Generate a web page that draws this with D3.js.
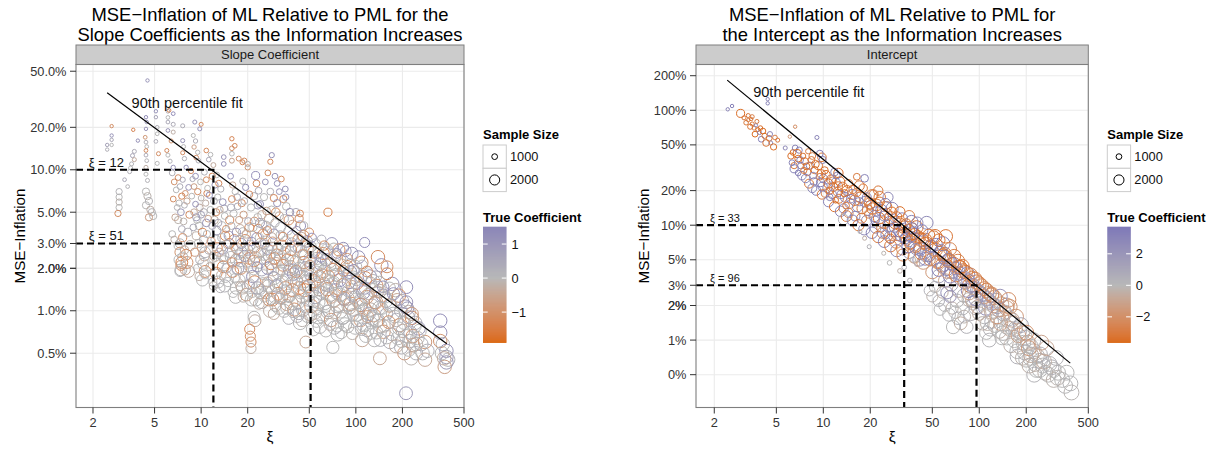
<!DOCTYPE html>
<html><head><meta charset="utf-8">
<script src="https://cdn.jsdelivr.net/npm/d3@7"></script>
<style>body{margin:0;background:#fff}svg{display:block}</style>
</head><body>
<svg id="c" width="1209" height="450"></svg>
<script>
// ---------------- DATA ----------------
const xTicks = [2, 5, 10, 20, 50, 100, 200, 500];
const xTickLabels = ["2", "5", "10", "20", "50", "100", "200", "500"];
const slopeYTicks = [0.5, 1, 2, 2, 3, 5, 10, 20, 50];
const slopeYLabels = ["0.5%", "1.0%", "2.0%", "2.0%", "3.0%", "5.0%", "10.0%", "20.0%", "50.0%"];
const interceptYTicks = [0.5, 1, 2, 2, 3, 5, 10, 20, 50, 100, 200];
const interceptYLabels = ["0%", "1%", "2%", "2%", "3%", "5%", "10%", "20%", "50%", "100%", "200%"];

const sizeBreaks = [1000, 2000];
const sizeLabels = ["1000", "2000"];
const slopeCoefBreaks = [-1, 0, 1];
const slopeCoefLabels = ["\u22121", "0", "1"];
const slopeCoefLimits = [-1.9, 1.51];
const interceptCoefBreaks = [-2, 0, 2];
const interceptCoefLabels = ["\u22122", "0", "2"];
const interceptCoefLimits = [-3.64, 3.72];

// 90th percentile fit lines (xi, MSE-inflation %)
const slopeFitXi = [2.47, 387];
const slopeFitMSE = [35.2, 0.583];
const interceptFitXi = [2.42, 383];
const interceptFitMSE = [183, 0.63];

// reference thresholds
const slopeRefXi = [12, 51];
const slopeRefMSE = [10, 3];
const interceptRefXi = [33, 96];
const interceptRefMSE = [10, 3];

// points: [xi, MSE-inflation %, sample size, true coefficient]
const slopeCloud = [
[7.1,8.8,1000,-1.0],[7.3,7.6,1000,0.3],[7.5,6.5,1100,-1.2],[7.2,5.8,1100,0.0],[7.4,5.0,1200,0.9],[7.1,4.4,1300,-0.1],[7.6,3.3,1500,-1.1],[7.3,3.0,1800,0.1],[7.5,2.2,2500,-1.3],[7.4,1.95,2500,0.0],[8.1,2.2,2500,-0.9],[8.3,1.9,2500,-0.3],[8.2,3.6,1500,0.1],[8.4,4.8,1300,-1.0],[8.1,6.0,1100,-0.4],[8.3,7.5,1000,1.0],[8.5,2.9,2000,-0.1],[8.0,2.5,2200,-1.2],
[9.2,9.0,1000,1.1],[9.5,7.0,1100,-1.0],[9.8,5.4,1200,-0.3],[9.3,4.6,1300,0.9],[9.7,4.0,1400,0.0],[10.2,3.6,1500,-1.2],[10.4,3.2,1600,0.3],[10.1,2.8,1800,-1.0],[10.5,2.45,2000,-0.5],[10.3,2.15,2200,0.0],[10.6,1.9,2500,-1.1],[10.2,1.65,2500,0.0],[10.8,4.2,1400,1.0],[10.4,5.0,1300,0.2],[10.9,6.8,1100,-1.2],[10.6,2.6,2200,0.1],
[11.8,9.0,1100,-1.1],[12.3,7.8,1100,1.0],[12.1,6.0,1200,0.3],[12.5,5.0,1300,-1.0],[12.2,4.4,1400,-0.2],[12.6,3.7,1600,0.9],[12.4,3.2,1800,0.2],[12.7,2.8,2000,-1.2],[12.3,2.45,2200,-0.4],[12.8,2.15,2400,0.0],[12.5,1.85,2500,-1.0],[12.9,1.6,2500,0.0],[13.7,2.75,2200,1.0],[13.9,2.45,2300,0.2],[14.3,3.4,1800,-1.1],[13.6,4.0,1600,0.0],[14.1,5.3,1300,0.3],[13.9,2.05,2500,-1.2],[14.4,1.75,2500,0.0],[14.2,1.5,2600,0.2],
[15.2,3.0,2000,-1.0],[15.4,2.6,2200,0.2],[15.1,3.4,1800,1.0],[15.3,4.4,1500,-1.2],[15.6,5.4,1300,0.4],[16.0,1.9,2500,-1.1],[16.8,2.3,2400,-0.3],[17.3,2.0,2500,0.9],[17.6,1.65,2600,0.1],[17.1,2.75,2200,-1.3],[17.9,3.8,1700,-0.3],[18.2,3.0,2000,1.1],[18.4,2.6,2200,0.2],[18.1,2.0,2500,-1.0],[18.5,1.45,2600,-0.2],[16.7,1.25,2700,0.0],[18.3,5.8,1300,-1.0],[17.1,6.4,1200,0.5],
[19.3,3.2,2000,-1.2],[19.9,2.7,2200,0.3],[20.4,2.35,2400,-1.0],[20.9,2.05,2500,-0.2],[21.5,1.75,2600,1.0],[20.1,1.5,2600,0.1],[22.0,2.8,2200,-1.1],[22.5,2.4,2400,-0.3],[22.9,3.3,2000,1.1],[23.4,3.8,1800,-1.0],[23.9,2.2,2500,0.0],[24.6,1.95,2600,0.4],[22.2,1.6,2700,-1.2],[24.1,1.35,2700,-0.2],[22.6,1.2,2800,0.0],[24.8,1.15,2800,0.1],[22.1,4.3,1600,-1.0],[24.7,4.8,1500,-0.3],[23.3,5.6,1400,1.0],[22.0,6.5,1300,0.2],
[25.2,3.5,2000,-1.1],[26.0,3.1,2200,-0.2],[26.8,2.75,2300,1.0],[27.5,2.45,2400,0.3],[28.3,2.15,2500,-1.2],[29.0,1.95,2600,-0.3],[29.8,1.7,2700,0.0],[30.6,1.5,2700,1.0],[31.4,1.32,2800,-1.0],[27.2,1.5,2700,-0.1],[26.3,1.35,2800,0.0],[28.9,1.2,2800,-1.1],[31.8,1.05,2900,0.0],[27.9,1.0,2900,-0.2],[30.9,2.5,2400,-1.0],[32.2,2.3,2500,0.2],[29.6,3.5,2000,1.1],[27.4,4.5,1700,-0.4],[30.4,5.0,1600,-1.2],[32.6,3.9,1900,0.3],
[33.2,2.9,2300,-1.0],[34.6,2.55,2400,0.2],[36.2,2.3,2500,-1.2],[37.9,2.05,2600,-0.2],[39.6,1.82,2700,1.0],[41.3,1.6,2700,0.3],[43.1,1.45,2800,-1.1],[44.8,1.27,2800,-0.3],[33.5,1.6,2700,0.0],[35.0,1.45,2800,-1.0],[36.6,1.28,2800,0.0],[38.3,1.13,2900,-0.2],[40.0,1.02,2900,-1.0],[41.8,0.92,2900,0.2],[43.6,0.82,3000,0.0],[34.3,1.0,2900,0.0],[38.9,3.4,2200,1.1],[42.6,3.2,2300,-1.2],[44.3,2.65,2400,0.0],[40.8,2.85,2300,0.4],[36.9,4.4,1900,-1.0],[43.9,4.0,2000,1.0],
[45.8,3.4,2300,-1.1],[48.2,3.1,2400,1.0],[50.7,2.85,2500,0.0],[53.3,2.6,2500,-1.2],[56.1,2.35,2600,0.0],[59.0,2.15,2700,1.0],[46.2,2.2,2600,-1.0],[48.6,1.95,2700,-0.2],[51.1,1.8,2700,0.0],[53.8,1.62,2800,-1.0],[56.6,1.48,2800,0.0],[59.5,1.34,2900,-0.1],[46.6,1.4,2900,-1.1],[49.0,1.2,2900,0.2],[51.6,1.08,3000,-0.8],[54.3,0.97,3000,-0.2],[57.1,0.9,3000,0.0],[58.4,0.77,3000,0.1],[52.9,0.74,3000,0.0],
[61.5,2.55,2600,-1.0],[64.6,2.3,2700,1.0],[67.8,2.1,2700,0.0],[71.2,1.95,2800,-1.2],[74.8,1.8,2800,0.0],[78.5,1.65,2900,1.1],[82.4,1.52,2900,-1.0],[62.1,1.55,2900,-0.2],[65.2,1.42,2900,-1.0],[68.5,1.3,3000,0.1],[71.9,1.18,3000,-0.9],[75.5,1.08,3000,-0.2],[79.3,0.99,3000,0.0],[83.3,0.9,3000,0.2],[62.8,1.08,3000,0.0],[66.0,0.98,3000,-0.1],[69.2,0.86,3000,-0.7],[72.7,0.76,3000,0.2],[76.3,0.68,3000,0.0],[70.0,3.0,2500,1.1],[77.7,2.7,2600,-1.1],
[87.5,2.05,2800,-1.0],[91.9,1.88,2900,1.0],[96.5,1.72,2900,0.0],[101.3,1.58,3000,-1.2],[106.4,1.46,3000,0.0],[111.7,1.35,3000,1.0],[117.3,1.25,3000,-0.9],[88.4,1.22,3000,-0.3],[92.8,1.12,3000,-1.0],[97.4,1.02,3000,0.1],[102.3,0.94,3000,0.0],[107.4,0.86,3000,-0.8],[112.8,0.79,3000,0.0],[118.4,0.73,3000,0.3],[99.0,0.76,3000,0.0],[104.0,2.4,2800,1.1],[109.0,2.2,2800,-1.0],[94.2,2.55,2700,1.0],
[123.0,1.75,3000,1.0],[129.2,1.62,3000,0.2],[135.6,1.5,3000,-1.1],[142.4,1.38,3000,-0.3],[149.5,1.28,3000,1.0],[157.0,1.18,3000,0.2],[164.9,1.09,3000,-1.0],[124.2,1.02,3000,-0.2],[130.4,0.93,3000,-0.9],[136.9,0.85,3000,0.1],[143.8,0.78,3000,0.0],[151.0,0.71,3000,-0.8],[158.5,0.65,3000,0.0],[166.4,0.6,3000,0.2],[131.7,0.62,3000,0.0],[146.2,2.1,3000,1.1],[139.0,2.4,3000,-1.1],
[172.0,1.55,3000,1.1],[180.6,1.4,3000,-0.2],[189.7,1.28,3000,-1.0],[199.1,1.17,3000,0.3],[209.1,1.07,3000,1.0],[219.5,0.98,3000,-0.2],[230.5,0.89,3000,-1.0],[242.0,0.82,3000,0.2],[254.1,0.75,3000,0.8],[174.0,0.95,3000,0.0],[182.7,0.86,3000,0.2],[191.8,0.79,3000,-0.8],[201.4,0.72,3000,-0.3],[211.5,0.66,3000,0.0],[222.1,0.61,3000,0.1],[233.2,0.66,3000,-0.9],[244.8,0.58,3000,-0.2],[187.0,0.64,3000,0.0],[196.5,0.55,3000,0.2],[206.0,0.5,3000,-0.7],[228.0,0.46,3000,-0.1],
[280.0,0.6,3000,-0.8],[290.0,0.52,3000,0.2],[365.0,0.58,3000,0.0],[395.0,0.45,3000,0.1],[375.0,0.4,3000,-0.6]
];

const slopeCloudFill = [
[15.6,2.4,2400,0.0],[16.4,3.2,2000,-0.8],[17.8,2.25,2400,0.0],[19.1,2.45,2300,0.9],[20.6,2.9,2100,0.0],[21.9,2.25,2400,-1.0],[23.2,2.6,2300,0.0],[24.3,3.0,2200,-0.4],[25.7,2.5,2400,0.0],[26.9,2.0,2600,1.0],[28.6,2.8,2300,0.0],[29.8,2.35,2400,-1.1],[31.2,2.7,2300,0.0],[16.9,1.45,2700,0.0],[19.6,1.3,2700,-0.6],[21.2,1.2,2800,0.0],[23.1,1.45,2700,0.5],[25.1,1.55,2700,0.0],[27.6,1.2,2800,-0.9],[30.0,1.25,2800,0.0],[18.6,3.6,1800,0.0],[20.5,3.9,1700,-1.0],[26.3,4.0,1800,0.0],[28.5,3.3,2000,-0.3],[24.0,4.2,1700,0.7],
[31.5,1.85,2600,0.0],[33.8,2.1,2500,-0.9],[35.8,1.65,2700,0.0],[37.4,1.95,2600,0.8],[39.2,2.25,2500,0.0],[41.1,1.9,2600,-1.0],[43.0,2.0,2600,0.0],[45.1,1.75,2700,0.3],[47.3,1.62,2800,0.0],[49.6,1.5,2800,-1.2],[52.0,1.38,2900,0.0],[54.6,1.25,2900,0.6],[57.3,1.15,2900,0.0],[33.0,1.25,2800,-0.5],[36.0,1.05,2900,0.0],[39.0,1.4,2800,-1.0],[42.4,1.15,2900,0.0],[45.6,1.02,3000,0.2],[48.9,0.92,3000,0.0],[35.2,3.1,2200,0.0],[38.1,2.7,2300,-1.0],[47.0,2.45,2500,0.0],[50.2,2.25,2500,0.9],[55.2,2.05,2600,0.0],[58.2,1.75,2700,-1.0],
[62.0,1.9,2800,0.0],[66.3,1.75,2800,-1.0],[70.5,1.55,2900,0.0],[74.2,1.4,2900,0.7],[79.0,1.3,3000,0.0],[84.0,1.22,3000,-0.9],[89.6,1.1,3000,0.0],[95.2,1.3,3000,0.4],[101.0,1.2,3000,0.0],[107.5,1.1,3000,-1.0],[114.0,1.02,3000,0.0],[121.0,0.95,3000,0.5],[128.0,0.88,3000,0.0],[135.0,1.15,3000,-0.7],[142.0,1.05,3000,0.0],[65.0,2.7,2600,0.0],[73.0,2.4,2700,-0.8],[81.0,2.1,2800,0.0],[90.0,1.6,2900,1.0],[99.0,2.05,2900,0.0],[115.0,1.7,3000,-1.0],[130.0,1.4,3000,0.0],[85.0,0.8,3000,0.0],[110.0,0.62,3000,-0.4],[125.0,0.7,3000,0.0]
];

const slopePoints = [
[6.5,9.5,1000,0.2],[6.7,8.2,1000,-0.9],[6.9,7.2,1000,0.0],[6.6,6.2,1000,-1.0],[7.0,5.4,1000,0.1],[6.8,4.6,1200,-0.4],[6.5,3.5,1200,0.0],[6.7,3.2,1200,-0.2],[7.1,2.9,1500,0.0],[7.3,2.6,2000,-0.9],[7.2,2.3,2000,0.0],[7.4,2.1,2000,-1.0],[7.3,1.9,2000,0.1],[7.6,2.4,2000,0.0],[7.8,2.7,1500,-0.3],[7.9,1.95,2000,-0.5],[7.5,3.8,1200,0.3],[7.7,4.3,1200,-0.1],[7.8,5.6,1000,0.2],[7.9,6.8,1000,-0.8],[7.6,8.5,900,0.5],
[8.6,9.8,900,-1.0],[8.8,8.6,900,0.3],[9.0,7.6,1000,-0.6],[8.7,6.5,1000,0.0],[9.2,5.7,1000,1.0],[9.0,5.0,1200,-0.3],[9.4,4.4,1200,0.0],[8.9,3.9,1200,0.4],[9.3,3.4,1500,-0.2],[9.6,3.0,1500,0.0],[9.1,2.6,1500,-0.7],[9.8,2.3,1500,0.2],[9.5,2.0,1500,0.0],[9.7,1.75,1500,-0.2],[10.0,4.8,1200,0.6],[10.0,6.3,1000,-0.1],[9.9,8.2,1000,0.0],
[10.5,9.6,1000,0.2],[10.8,8.5,1000,-1.0],[11.0,7.4,1000,0.0],[11.3,6.6,1100,1.1],[10.7,5.8,1100,-0.2],[11.5,5.2,1200,0.0],[11.1,4.5,1200,-0.5],[11.8,4.0,1300,0.3],[10.9,3.5,1300,0.0],[11.6,3.1,1500,-0.8],[11.2,2.7,1500,0.1],[11.9,2.35,1500,0.0],[11.4,2.05,1500,-0.3],[10.6,1.8,1500,0.0],[11.9,1.6,1500,0.2],[12.0,1.5,1500,-0.1],
[12.6,9.2,1000,0.0],[13.0,8.0,1100,-1.1],[13.4,7.3,1100,0.2],[12.8,6.4,1100,0.0],[13.8,5.9,1200,1.0],[13.2,5.2,1200,-0.3],[14.2,4.7,1200,0.0],[12.9,4.2,1300,0.5],[14.5,3.8,1300,-0.9],[13.6,3.3,1500,0.0],[14.8,2.95,1500,0.2],[13.1,2.6,1500,-0.4],[14.0,2.3,1500,0.0],[14.6,2.0,1800,0.3],[13.5,1.8,1800,-0.2],[14.9,1.6,1800,0.0],[13.3,1.45,1800,0.1],
[15.5,9.0,1000,1.1],[16.0,7.8,1100,-0.4],[16.6,7.0,1100,0.0],[15.8,6.2,1200,-1.0],[17.2,5.5,1200,0.3],[16.2,4.9,1300,0.0],[17.6,4.4,1300,-0.5],[15.7,4.0,1300,0.1],[16.9,3.6,1500,1.0],[17.8,3.2,1500,0.0],[16.3,2.85,1500,-0.3],[17.4,2.5,1800,0.0],[15.9,2.2,1800,-1.0],[17.0,1.95,1800,0.2],[16.5,1.7,1800,0.0],[17.9,1.5,1800,-0.2],[16.1,1.35,2000,0.0],
[18.6,8.3,1100,0.0],[19.4,7.5,1100,1.1],[20.5,6.7,1200,-1.0],[19.0,6.0,1200,0.2],[21.0,5.4,1300,0.0],[18.8,4.8,1300,-0.6],[20.2,4.3,1400,0.4],[21.6,3.9,1500,0.0],[19.6,3.5,1500,-0.3],[21.2,3.1,1600,1.0],[18.9,2.8,1600,0.0],[20.8,2.5,1800,-0.4],[19.8,2.2,1800,0.1],[21.8,1.95,2000,0.0],[19.2,1.75,2000,-0.2],[20.6,1.55,2000,0.3],[21.4,1.35,2000,0.0],[18.7,1.25,2000,-0.1],
[22.0,0.9,2500,0.0],[22.3,0.85,2500,-0.2],[20.6,0.74,2000,-1.1],[20.8,0.66,2000,-0.9],[21.0,0.6,2000,-1.0],[21.0,0.54,2000,-0.2],
[22.8,8.0,1200,-1.0],[23.5,7.1,1200,0.3],[25.5,6.4,1300,0.0],[24.0,5.7,1300,1.0],[26.5,5.1,1400,-0.5],[23.2,4.6,1400,0.0],[25.0,4.1,1500,0.2],[26.8,3.7,1500,-1.0],[23.8,3.3,1600,0.0],[25.8,2.95,1700,0.5],[24.4,2.6,1800,-0.2],[26.2,2.3,1800,0.0],[23.0,2.05,2000,1.0],[25.3,1.8,2000,0.0],[26.9,1.6,2000,-0.4],[24.2,1.42,2000,0.1],[25.6,1.26,2200,0.0],[23.6,1.12,2200,-0.2],
[28.0,7.0,1200,0.2],[29.5,6.3,1300,-1.1],[31.0,5.8,1300,1.0],[28.5,5.2,1400,0.0],[32.0,4.7,1500,-0.3],[30.0,4.2,1500,0.0],[27.8,3.8,1600,0.4],[32.5,3.45,1600,0.0],[29.0,3.1,1700,-0.8],[31.5,2.8,1800,0.1],[28.2,2.5,1800,0.0],[30.5,2.2,2000,-0.3],[32.8,1.95,2000,0.0],[29.2,1.75,2000,0.6],[31.2,1.55,2200,0.0],[28.6,1.38,2200,-0.1],[32.2,1.22,2200,0.2],[30.2,1.08,2200,0.0],[29.5,0.95,2300,-0.3],
[34.0,6.2,1300,-1.0],[35.5,5.5,1400,0.0],[37.5,5.0,1400,1.1],[34.5,4.5,1500,0.2],[39.0,4.1,1500,-0.5],[36.5,3.7,1600,0.0],[33.8,3.35,1700,-1.0],[38.5,3.05,1800,0.3],[35.2,2.75,1800,0.0],[37.8,2.45,2000,-0.2],[34.2,2.2,2000,0.0],[39.5,1.98,2000,0.5],[36.0,1.78,2200,-0.3],[38.2,1.58,2200,0.0],[34.8,1.4,2200,0.1],[37.2,1.25,2300,0.0],[35.6,1.1,2300,-0.5],[39.2,0.98,2300,0.0],[36.8,0.88,2400,0.2],
[41.0,5.0,1400,0.3],[43.0,4.5,1500,-1.0],[46.0,4.0,1500,0.0],[41.5,3.7,1600,1.0],[44.5,3.35,1700,-0.3],[47.5,3.05,1800,0.0],[42.2,2.8,1800,0.4],[45.5,2.5,2000,-0.8],[40.5,2.25,2000,0.0],[47.0,2.05,2000,0.2],[43.5,1.85,2200,0.0],[41.8,1.65,2200,-0.3],[46.5,1.5,2200,0.1],[44.0,1.33,2300,0.0],[40.8,1.18,2300,-0.2],[47.8,1.06,2400,0.0],[42.8,0.95,2400,0.3],[45.0,0.85,2500,-0.1],
[50.0,3.6,1600,-1.0],[52.0,3.3,1700,1.1],[55.0,3.0,1800,0.0],[49.5,2.75,1800,-0.3],[57.0,2.55,2000,0.2],[53.0,2.3,2000,0.0],[50.5,2.1,2000,-0.6],[56.0,1.9,2200,0.0],[51.5,1.72,2200,0.4],[54.5,1.56,2200,0.0],[57.5,1.4,2300,-0.2],[49.8,1.28,2300,0.0],[53.5,1.15,2300,0.1],[56.5,1.03,2400,0.0],[51.0,0.93,2500,-0.3],[55.5,0.84,2500,0.0],[47.5,0.6,2500,-0.4],
[60.0,3.2,1700,0.3],[62.5,2.9,1800,-1.0],[66.0,2.65,1900,0.0],[59.5,2.4,2000,1.0],[68.5,2.2,2000,-0.2],[63.0,2.0,2100,0.0],[60.5,1.82,2200,-0.4],[67.0,1.66,2200,0.0],[64.5,1.5,2300,0.3],[61.0,1.36,2300,0.0],[69.0,1.24,2400,-0.6],[63.5,1.12,2400,0.0],[66.5,1.0,2500,0.2],[60.8,0.9,2500,0.0],[68.0,0.8,2500,-0.2],[64.0,0.72,2600,0.0],[71.0,0.55,2600,0.0],
[72.0,2.8,1800,0.0],[75.5,2.55,1900,1.0],[80.0,2.3,2000,-0.3],[73.0,2.1,2100,0.0],[83.0,1.92,2200,-1.0],[77.0,1.75,2200,0.2],[72.5,1.6,2300,0.0],[81.0,1.46,2300,-0.3],[75.0,1.33,2400,0.0],[84.0,1.2,2400,0.5],[78.5,1.08,2500,0.0],[73.5,0.97,2500,-0.2],[82.0,0.88,2600,0.0],[76.0,0.78,2600,0.1],[80.5,0.7,2600,0.0],[83.0,2.8,2200,1.1],[86.0,2.65,2200,0.9],
[88.0,2.35,2000,-0.8],[92.0,2.15,2100,0.0],[97.0,1.95,2200,1.1],[87.0,1.8,2200,0.2],[101.0,1.65,2300,0.0],[94.0,1.5,2300,-0.4],[89.0,1.38,2400,0.0],[99.0,1.26,2400,0.3],[104.0,1.14,2500,0.0],[91.0,1.04,2500,-0.3],[96.0,0.94,2500,0.0],[102.0,0.85,2600,0.2],[88.5,0.77,2600,0.0],[95.0,0.69,2600,-0.1],
[114.0,3.05,2000,1.2],[110.0,2.1,2100,0.0],[118.0,1.9,2200,-1.0],[108.0,1.72,2300,0.2],[125.0,1.58,2300,0.0],[114.5,1.44,2400,0.9],[121.0,1.32,2400,-0.3],[107.0,1.2,2500,0.0],[128.0,1.1,2500,0.3],[112.0,1.0,2500,0.0],[119.0,0.91,2600,-0.5],[126.0,0.82,2600,0.0],[109.0,0.74,2700,0.1],[116.0,0.66,2700,0.0],
[159.0,1.83,2500,-1.2],[159.0,2.05,2500,-1.0],[135.0,1.75,2300,0.4],[142.0,1.6,2400,0.0],[150.0,1.48,2400,1.0],[138.0,1.36,2500,-0.2],[155.0,1.25,2500,0.0],[133.0,1.14,2600,-0.6],[147.0,1.04,2600,0.0],[158.0,0.95,2700,0.3],[140.0,0.86,2700,0.0],[152.0,0.78,2700,-0.2],[136.0,0.7,2800,0.0],[144.0,0.62,2800,0.2],[143.0,0.46,2800,-0.4],
[165.0,1.45,2500,0.0],[175.0,1.32,2600,1.0],[185.0,1.2,2600,-0.4],[168.0,1.1,2700,0.0],[195.0,1.0,2700,0.3],[178.0,0.91,2700,0.0],[163.0,0.83,2800,-0.9],[190.0,0.75,2800,0.0],[172.0,0.68,2800,0.2],[198.0,0.61,2900,0.0],[182.0,0.56,2900,-0.3],
[212.0,1.47,2800,1.2],[212.0,1.15,2800,1.0],[215.0,1.04,2800,0.8],[218.0,0.9,2800,0.4],[205.0,0.82,2800,0.0],[230.0,0.95,2900,-0.6],[240.0,0.78,2900,0.0],[225.0,0.7,2900,0.3],[250.0,0.64,3000,0.0],[235.0,0.57,3000,-0.4],[245.0,0.5,3000,0.2],[220.0,0.53,3000,0.0],[258.0,0.72,3000,0.0],
[211.0,0.26,2800,0.9],[270.0,0.5,3000,0.0],[280.0,0.45,3000,-0.4],[265.0,0.58,3000,0.2],
[351.0,0.85,3000,1.2],[351.0,0.7,3000,1.0],[351.0,0.61,3000,-0.9],[385.0,0.52,3000,1.0],[385.0,0.47,3000,0.6],[385.0,0.43,3000,0.8],[360.0,0.5,3000,0.0],[372.0,0.46,3000,-0.3]
];

const slopeSparse = [
[2.47,15.0,600,0.6],[2.47,13.9,600,0.2],[2.64,20.4,600,-1.0],[2.64,17.5,600,1.0],[2.64,16.3,600,0.4],[2.64,15.0,600,0.0],
[3.64,19.2,600,-1.2],[3.9,16.1,600,1.1],[3.7,13.5,700,0.3],[3.6,12.6,700,0.5],[3.7,11.8,700,-0.3],[3.55,11.0,700,0.1],[3.5,10.3,700,0.0],[3.45,9.7,700,0.2],
[3.2,8.5,650,0.4],[3.35,7.6,650,0.1],
[2.95,7.0,1100,0.1],[2.95,6.4,1100,0.0],[2.95,5.9,1100,-0.1],[2.95,5.4,1100,0.0],[2.9,4.9,1100,-1.0],
[4.4,23.6,600,1.2],[4.45,21.8,600,0.9],[4.4,19.5,600,1.0],[4.35,17.0,650,-0.8],[4.4,15.7,650,0.2],[4.45,14.6,650,0.0],[4.4,13.7,650,-1.1],[4.4,12.7,650,0.3],[4.45,11.6,650,0.1],[4.4,10.4,700,-0.2],[4.4,9.3,700,0.0],[4.5,8.4,700,0.1],
[4.5,43,600,1.0],
[4.4,7.0,1300,0.0],[4.5,6.5,1300,-0.1],[4.6,6.0,1300,0.1],[4.4,5.6,1300,0.0],[4.7,5.2,1300,-0.2],[4.8,5.0,1300,0.1],[4.9,4.7,1300,0.0],[4.6,4.6,1300,-0.6],
[5.1,26,600,1.1],[5.1,23.6,600,0.6],[5.2,20.0,650,0.2],[5.2,18.0,650,0.0],[5.1,15.9,650,0.3],[5.3,13.0,700,-1.0],[5.2,11.1,700,0.0],
[6.1,26,650,0.2],[6.1,23.5,650,0.0],[6.1,21.8,650,0.4],[6.1,19.0,650,1.0],[6.6,21.0,700,0.3],[6.6,18.5,700,-0.2],[6.4,16.0,700,-0.9],[6.0,13.7,700,-1.1],[6.1,12.7,700,0.0],[6.6,10.4,750,1.0],[6.3,11.5,700,0.2],[6.2,26.4,650,-1.2],[6.6,25,650,1.2],
[7.6,20.5,700,0.3],[7.6,16.1,700,1.0],[7.7,14.6,700,0.0],[7.6,13.2,700,-1.0],[7.8,12.0,750,0.2],[8.0,10.4,750,1.1],
[9.1,21.8,700,1.0],[10.0,21.0,700,-1.1],[9.8,19.5,700,1.1],[8.9,17.5,700,0.0],[9.2,16.0,750,0.3],[9.0,14.5,750,-0.6],[9.5,13.3,750,0.0],[9.3,12.2,800,-1.0],[9.6,11.6,800,0.2],
[10.8,13.7,800,-1.1],[11.5,12.8,800,0.0],[11.2,11.8,800,0.4],[12.0,10.8,850,-0.3],
[14.0,12.3,800,1.0],[14.0,11.0,800,1.1],[15.8,16.6,750,-1.2],[15.8,14.2,800,-0.9],[15.8,13.0,800,0.0],[15.8,11.6,850,-0.5],[16.5,14.8,800,-1.1],
[17.5,12.0,850,-1.0],[18.5,11.3,850,-1.2],[19.0,11.6,900,-1.0],[20.0,10.4,900,-0.8],[20.0,11.0,900,0.1],
[22.5,9.1,1500,1.2],[26.0,8.2,1000,1.0],[28.0,11.4,900,-1.1],[28.6,12.7,900,1.1],[27.0,9.5,1000,-1.0],[30.0,9.0,1000,1.0],[31.0,8.0,1000,1.1],[32.0,7.0,1000,1.0],
[33.0,8.6,1000,-1.0],[35.0,7.3,1000,1.1],[35.2,6.4,1100,1.0],[43.6,4.9,1200,-1.1],[66.0,5.0,1500,-1.3]
];

const interceptCloud = [
[6.2,40,1100,-3.2],[6.5,33,1100,-2.8],[6.9,38,1200,-3.4],[7.2,33,1200,2.9],[7.6,36,1300,-3.0],[7.9,29,1300,-3.3],[8.2,33,1300,3.1],[8.5,40,1200,-2.7],[8.9,34,1400,-3.1],[8.7,24,1400,2.8],[6.4,43,1000,-3.3],[7.0,45,1100,3.0],
[9.3,33,1500,-3.2],[9.7,28,1500,-2.9],[10.0,25.5,1600,3.0],[10.4,27.5,1600,-3.3],[10.6,21,1700,2.7],[11.2,25,1700,-3.0],[11.6,21.5,1700,-3.2],[12.0,23.5,1800,3.1],[12.4,19.5,1800,-2.8],[12.8,24,1800,-3.1],[11.4,18.5,1600,2.5],[10.3,19,1500,-2.6],[9.6,23.5,1500,3.2],[12.6,17,1700,-3.0],
[13.3,21.5,1900,-3.1],[13.8,17.5,1900,2.9],[14.2,20,2000,-3.3],[14.8,15.5,2000,-2.7],[15.3,18.5,2000,3.0],[15.9,16.5,2100,-3.0],[16.6,14.5,2100,2.6],[17.2,17.5,2100,-3.2],[17.8,14,2200,-2.9],[18.6,16,2200,3.1],[19.3,13.5,2200,-3.0],[19.9,15.5,2300,-2.5],[14.5,12.8,1800,-2.4],[16.0,12,1900,2.8],[17.6,11.5,2000,-2.8],[19.0,11,2100,2.2],[13.5,14,1800,3.0],
[20.6,14,2300,-3.1],[21.3,12,2300,2.8],[22.0,15,2400,-2.9],[22.8,11.5,2400,-3.2],[23.6,13.5,2400,3.0],[24.4,10.5,2500,-2.7],[25.3,12.5,2500,-3.1],[26.2,9.8,2500,2.9],[27.1,11.6,2600,-3.0],[28.0,9.0,2600,3.2],[28.9,10.5,2600,-2.8],[29.9,8.3,2600,-3.1],[21.6,9.5,2200,2.5],[24.0,8.6,2300,-2.3],[26.8,7.9,2400,2.0],[29.3,7.1,2500,-2.2],[23.0,17.5,2400,-3.0],[27.6,14.0,2600,2.7],
[30.8,10.2,2700,-3.2],[31.8,8.1,2700,2.9],[32.9,9.6,2700,-2.9],[34.0,7.6,2800,3.1],[35.1,9.0,2800,-3.0],[36.3,7.1,2800,-2.6],[37.5,8.5,2900,2.8],[38.8,6.6,2900,-3.1],[40.1,7.9,2900,-2.7],[41.5,6.2,2900,3.0],[42.9,7.4,3000,-3.2],[44.3,5.8,3000,2.5],[32.2,6.2,2500,-2.0],[35.5,5.8,2600,1.8],[38.3,5.3,2700,-1.6],[41.2,5.0,2800,2.0],[43.7,4.7,2800,-1.5],[39.6,9.6,2900,-3.0],[36.8,10.7,2800,3.0],
[45.8,6.9,3000,-2.9],[47.4,5.5,3000,3.0],[49.0,6.5,3000,-3.1],[50.7,5.1,3000,2.4],[52.4,6.1,3100,-2.8],[54.2,4.8,3100,-3.0],[56.1,5.7,3100,2.7],[58.0,4.5,3100,-2.6],[60.0,5.3,3200,-3.1],[62.1,4.2,3200,2.9],[64.2,4.9,3200,-2.8],[66.4,3.95,3200,2.3],[68.7,4.55,3200,-3.0],[50.0,3.9,2900,-1.6],[55.0,3.6,3000,1.2],[60.5,3.3,3000,-1.0],[66.0,3.05,3100,0.8],[52.0,8.0,3100,-3.0],[58.5,6.9,3200,3.0],
[71.0,3.7,3200,-2.7],[73.5,4.3,3200,-3.2],[76.0,3.45,3200,2.6],[78.6,4.0,3300,-2.9],[81.3,3.2,3300,-2.2],[84.1,3.75,3300,2.4],[87.0,3.0,3300,-2.8],[90.0,3.45,3300,-2.0],[93.1,2.8,3300,2.1],[96.3,3.2,3300,-2.5],[99.6,2.6,3400,1.6],[103.0,2.95,3400,-2.2],[74.0,2.7,3100,-0.6],[80.0,2.45,3100,0.4],[86.0,2.25,3200,-0.3],[92.0,2.1,3200,0.2],[98.0,1.95,3200,-0.8],[78.0,1.9,3100,0.0],[88.0,1.7,3200,0.3],[72.0,2.2,3000,0.1],
[107.0,2.4,3400,-1.8],[111.0,2.7,3400,-2.4],[115.0,2.2,3400,1.4],[119.5,2.45,3400,-2.0],[124.0,2.0,3400,-1.2],[128.5,2.2,3500,1.0],[133.5,1.85,3500,-1.6],[138.5,2.05,3500,-0.9],[144.0,1.7,3500,0.5],[149.5,1.9,3500,-1.3],[155.0,1.55,3500,0.2],[108.0,1.6,3300,0.0],[113.0,1.4,3300,-0.3],[118.0,1.25,3300,0.2],[126.0,1.35,3400,0.0],[134.0,1.2,3400,-0.4],[142.0,1.15,3400,0.1],[150.0,1.05,3400,0.0],[158.0,1.25,3500,-0.7],[120.0,1.75,3300,-0.5],
[165.0,1.4,3500,-1.0],[172.0,1.6,3500,-1.5],[180.0,1.2,3500,0.3],[188.0,1.15,3500,-0.6],[196.0,1.05,3500,0.0],[205.0,0.95,3500,-0.9],[214.0,0.88,3500,0.2],[224.0,0.8,3500,-0.3],[234.0,0.73,3500,0.0],[245.0,0.66,3500,0.3],[168.0,1.0,3500,0.0],[182.0,0.88,3500,-0.2],[196.0,0.78,3500,0.2],[212.0,0.7,3500,0.0],[228.0,0.62,3500,-0.3],[244.0,0.55,3500,0.0],[176.0,0.72,3500,0.4],
[255.0,0.6,3500,0.0],[265.0,0.52,3500,-0.3],[282.0,0.62,3500,0.2],[300.0,0.55,3500,0.0],[318.0,0.47,3500,-0.2],[340.0,0.45,3500,0.0],[355.0,0.4,3500,0.1]
];

const interceptEdge = [
[6.5,31,1500,3.0],[7.3,27,1600,2.7],[8.1,23,1700,-3.0],[9.0,20,1800,3.2],[9.8,18.5,1800,-2.9],[7.7,25.5,1600,3.1],[8.5,21,1700,2.6],
[10.8,16,2000,3.0],[11.8,14.5,2000,-3.2],[12.9,13.2,2100,2.8],[14.1,12,2200,-2.7],[15.4,11,2200,3.1],[16.8,10,2300,-3.0],[18.3,9.2,2300,2.5],[13.5,11.2,2100,0.5],
[20.5,8.6,2400,3.0],[22.5,7.9,2400,-2.8],[24.6,7.2,2500,2.9],[27,6.6,2500,-3.1],[29.6,6.0,2600,2.4],[32.4,5.5,2600,-2.6],
[12.5,28.5,1800,-3.2],[17,22,2000,-3.0],[20.5,18.3,2200,-2.9],[25,15.3,2300,3.0],[9.8,39,1600,-3.1],[37,9.3,2600,-2.9],[45,7.5,2800,-3.0],[60,5.6,3000,-2.8],[75,4.3,3200,-3.1],[120,2.5,3400,-2.0],[150,2.0,3500,-1.5],
[35,6.5,2700,3.3],[45,5.1,2800,3.0],[55,4.1,3000,3.1],[65,3.6,3100,2.9],[85,2.7,3200,2.7],[110,1.9,3300,2.2],[95,2.3,3300,2.6]
];

const interceptPoints = [
[2.44,102,600,2.8],[2.6,109,600,3.2],[2.95,94,1500,-3.4],[3.1,86,700,-3.0],[3.3,82,600,-2.6],[3.45,84,600,-3.2],[3.5,76,700,-3.0],[3.6,70,700,-2.4],[3.7,74,600,2.6],[3.8,68,700,-3.3],[3.65,62,1000,-3.5],[3.9,64,700,2.9],[4.0,56,1000,3.1],[4.2,60,900,-3.0],[4.4,115,600,3.0],[4.4,125,600,2.5],[4.5,57,1000,-3.2],[4.6,52,700,2.4],[3.5,88,700,-2.7],
[3.2,78,800,-2.9],[3.4,72,900,-3.1],[3.75,80,700,-2.8],[3.95,70,800,-3.2],[4.1,66,1000,-3.4],[4.3,52,1200,-3.0],[4.8,48,1100,-3.3],[4.55,62,900,2.7],[3.3,90,700,-3.0],[4.9,58,800,-2.6],
[5.1,55,700,-3.0],[5.7,47,700,2.6],[6.1,59,600,-1.5],[6.6,72,600,-2.0],[9.1,58,700,2.8],
[6.6,47,1000,2.9],[6.8,42,1500,-3.4],[7.1,37,1200,3.0],[6.3,35,1000,2.7],[6.9,28.5,1000,3.2],[7.8,32.5,1200,-3.3],[8.4,37,1200,-3.0],[8.8,30.2,1300,-3.2],[9.5,42,1200,3.1],[9.9,37,1300,2.8],[9.5,26.4,1200,-2.9],[7.4,40,1000,-3.1],[8.0,44,900,-2.6],[8.6,27,1200,2.5],[7.5,30,1100,-2.8],
[10.8,23,1800,-3.4],[9.9,21.7,1800,3.2],[11.0,20,1300,-3.0],[11.5,24.5,1300,-2.6],[12.2,27,1200,3.0],[12.5,22,1500,-3.1],[13.0,18.5,1500,2.7],[13.7,19.0,1300,-3.2],[14.5,23,1500,-2.8],[15.0,17.0,1600,3.3],[15.5,20.5,1500,-3.0],[16.4,19.3,1600,-2.5],[16.4,26.4,1200,-2.9],[18.4,25.6,1400,3.0],[17.0,16.0,1500,2.6],[12.0,16.5,1000,-3.3],[14.0,14.8,1200,-2.7],[11.0,17.5,1200,2.9],[10.2,30,1300,-3.2],[11.8,29,1400,2.5],
[18.0,21,1600,-3.1],[19.0,17.5,1700,2.8],[20.0,15,1700,-3.0],[21.0,18.5,1800,-2.6],[22.0,13.2,1800,3.1],[23.0,16,1800,-3.3],[24.5,12.0,1900,2.5],[25.5,14.5,2000,-2.9],[26.5,10.8,1900,3.0],[27.5,13.0,2000,-3.2],[28.5,9.6,2000,2.7],[29.5,11.8,2100,-2.8],[30.5,8.8,2000,3.2],[31,13.1,2000,-3.4],[19.5,12.5,1500,-2.4],[21.5,11.0,1600,2.9],[23.5,9.5,1700,-2.7],[25.0,8.3,1700,3.0],[27.0,7.6,1800,-3.0],[22.5,20,1800,-3.0],[26.0,17.5,2000,2.6],
[17.2,8.8,700,0.1],[18.4,7.7,700,-0.4],[19.7,6.5,700,0.3],[24.4,5.7,700,-0.2],[26.6,4.7,800,0.0],[31,4.0,800,-0.3],[35.9,3.3,800,0.2],[37.6,5.0,900,-0.1],[33,4.3,800,0.4],[40,4.6,900,-0.5],
[32,11.5,2200,2.8],[34,10.2,2200,-3.1],[35.5,12.0,2300,-2.6],[37,9.4,2300,3.0],[38.5,8.4,2200,-3.3],[40,10.5,2400,2.4],[41.5,7.8,2300,-2.9],[43,9.0,2400,3.2],[44.5,7.0,2400,-2.7],[46,10.5,2800,2.6],[47.5,8.2,2500,-3.0],[49,6.6,2500,2.9],[33.5,7.6,2000,3.1],[36,6.8,2100,-2.8],[39,6.2,2200,2.2],[42,5.6,2200,-2.5],[45,5.4,2300,1.8],[48,5.0,2400,-2.0],[32.5,8.6,2100,-3.2],[36.5,7.9,2200,2.9],
[51,7.9,2600,-2.5],[53,6.8,2600,3.0],[55,7.4,2700,-3.1],[57,6.0,2600,2.6],[59,5.5,2700,-2.9],[61,8.0,3000,-3.2],[63,5.0,2700,2.8],[65,6.2,2800,-2.4],[67,4.6,2800,3.0],[69,5.4,2900,-2.8],[71,4.2,2800,2.2],[73,4.9,2900,-2.6],[75,3.8,2900,2.7],[78,4.4,3000,-3.0],[80,3.5,2900,1.5],[54,4.8,2400,-1.8],[58,4.3,2500,2.0],[62,3.9,2600,-1.5],
[48,2.7,2200,0.3],[50,2.4,2300,-0.2],[52,2.9,2300,0.1],[55,2.2,2400,0.5],[58,2.6,2400,-0.4],[60,2.0,2500,0.0],[62,2.58,2600,2.2],[65,2.4,2600,2.0],[64,1.66,2800,0.2],[67,1.9,2600,-0.3],[70,1.75,2700,0.0],[73,1.55,2700,0.4],[76,1.4,2800,-0.5],[68,1.3,3000,0.0],[80,1.6,2800,-0.2],[83,1.3,2800,0.3],[56,1.85,2500,0.0],
[82,3.9,3000,-2.8],[85,3.3,2900,2.5],[88,3.7,3000,-2.2],[91,3.0,3000,2.0],[94,3.4,3100,-2.6],[97,2.7,3000,1.8],[100,3.1,3100,-2.3],[104,2.5,3100,1.2],[108,2.8,3200,-2.0],[112,2.3,3100,1.5],[116,2.55,3200,-1.8],[120,2.1,3200,0.8],[125,2.35,3300,-1.5],[130,1.95,3200,1.0],[136,2.4,3300,2.0],[90,2.2,2900,-0.8],[95,1.9,3000,0.3],[100,1.7,3000,-0.5],[111,1.16,3000,0.0],[116,1.0,3100,0.2],[105,1.4,3000,-0.3],[120,1.45,3100,0.5],[86,2.55,2900,-1.2],
[130,1.6,3300,-1.5],[137,1.4,3300,-1.0],[145,1.75,3300,0.6],[154,2.24,3400,-2.0],[157,1.95,3400,-1.6],[150,1.3,3300,0.0],[162,1.5,3400,-0.8],[170,1.25,3400,0.3],[178,1.1,3400,-1.2],[185,1.35,3500,0.8],[192,0.95,3400,0.0],[200,1.16,3500,-1.8],[208,0.85,3500,-1.5],[215,0.74,3500,-0.6],[222,1.0,3500,0.2],[140,1.05,3300,0.0],[160,0.9,3400,-0.3],[175,0.8,3400,0.1],[200,0.675,3500,0.0],[210,0.6,3500,-0.4],[225,0.5,3500,0.2],[233,0.55,3500,0.0],[190,0.7,3400,-0.2],
[245,0.75,3500,0.4],[260,0.65,3500,-0.5],[277,0.5,3500,0.0],[290,0.58,3500,0.3],[300,0.45,3500,-0.2],[320,0.52,3500,0.0],[363,0.52,3500,0.0],[384,0.42,3500,0.1],[390,0.35,3500,-0.1],[270,0.85,3500,-0.8],[250,0.95,3500,-1.0],[310,0.7,3500,0.2]
];

// ---------------- DRAWING ----------------
const FONT = '"Liberation Sans", Arial, Helvetica, sans-serif';
const svg = d3.select("#c").style("font-family", FONT);
const rScale = d3.scaleSqrt().domain([500, 3500]).range([1.35, 7.45]).clamp(true);
const LOW = "#d95f02", MID = "#b3b3b3", HIGH = "#7570b3";

function colorFor(limits) {
  const M = d3.max(limits, v => Math.abs(v));
  return d3.scaleLinear().domain([-M, 0, M]).range([LOW, MID, HIGH]).interpolate(d3.interpolateLab);
}

const panels = [
  { title: ["MSE\u2212Inflation of ML Relative to PML for the", "Slope Coefficients as the Information Increases"],
    strip: "Slope Coefficient", pts: slopeCloud.concat(slopeCloudFill, slopePoints, slopeSparse), yTicks: slopeYTicks, yLabels: slopeYLabels,
    xDomain: [1.553, 500], yDomain: [0.206, 55.8], xRange: [76, 464], yRange: [407.5, 64.5],
    fitXi: slopeFitXi, fitMSE: slopeFitMSE, fitLabelMSE: 27.3, refXi: slopeRefXi, refMSE: slopeRefMSE, refSize: 13,
    coefLimits: slopeCoefLimits, coefBreaks: slopeCoefBreaks, coefLabels: slopeCoefLabels,
    legendX: 483, yTitleX: 25 },
  { title: ["MSE\u2212Inflation of ML Relative to PML for", "the Intercept as the Information Increases"],
    strip: "Intercept", pts: interceptCloud.concat(interceptEdge, interceptPoints), yTicks: interceptYTicks, yLabels: interceptYLabels,
    xDomain: [1.527, 500], yDomain: [0.259, 250.4], xRange: [696, 1088.3], yRange: [407.5, 64.5],
    fitXi: interceptFitXi, fitMSE: interceptFitMSE, fitLabelMSE: 130, refXi: interceptRefXi, refMSE: interceptRefMSE, refSize: 11,
    coefLimits: interceptCoefLimits, coefBreaks: interceptCoefBreaks, coefLabels: interceptCoefLabels,
    legendX: 1107.3, yTitleX: 649 }
];

panels.forEach(p => {
  const x = d3.scaleLog().domain(p.xDomain).range(p.xRange);
  const y = d3.scaleLog().domain(p.yDomain).range(p.yRange);
  const color = colorFor(p.coefLimits);
  const [L, R] = p.xRange, [B, T] = p.yRange;
  const cx = (L + R) / 2;
  const g = svg.append("g");

  g.selectAll("text.title").data(p.title).join("text").attr("class", "title")
    .attr("x", cx).attr("y", (d, i) => 20.5 + i * 20).attr("text-anchor", "middle")
    .attr("font-size", 18.4).attr("fill", "#000").text(d => d);

  g.append("rect").attr("x", L).attr("y", 45).attr("width", R - L).attr("height", T - 45)
    .attr("fill", "#cccccc").attr("stroke", "#7f7f7f").attr("stroke-width", 1);
  g.append("text").attr("x", cx).attr("y", 59.3).attr("text-anchor", "middle")
    .attr("font-size", 13).attr("fill", "#1a1a1a").text(p.strip);

  g.append("rect").attr("x", L).attr("y", T).attr("width", R - L).attr("height", B - T).attr("fill", "#fff");
  g.selectAll("line.gx").data(xTicks).join("line").attr("class", "gx")
    .attr("x1", d => x(d)).attr("x2", d => x(d)).attr("y1", T).attr("y2", B)
    .attr("stroke", "#ebebeb").attr("stroke-width", 1.1);
  g.selectAll("line.gy").data(p.yTicks).join("line").attr("class", "gy")
    .attr("y1", d => y(d)).attr("y2", d => y(d)).attr("x1", L).attr("x2", R)
    .attr("stroke", "#ebebeb").attr("stroke-width", 1.1);

  g.append("g").selectAll("circle").data(p.pts).join("circle")
    .attr("cx", d => x(d[0])).attr("cy", d => y(d[1])).attr("r", d => rScale(d[2]))
    .attr("fill", "none").attr("stroke", d => color(d[3])).attr("stroke-width", 0.95);

  const fit = p.fitXi.map((v, i) => [v, p.fitMSE[i]]);
  g.append("path").attr("d", d3.line().x(d => x(d[0])).y(d => y(d[1]))(fit))
    .attr("stroke", "#000").attr("stroke-width", 1.2).attr("fill", "none");
  g.append("text").attr("x", x(3.55)).attr("y", y(p.fitLabelMSE))
    .attr("font-size", 14.6).attr("fill", "#111").text("90th percentile fit");

  p.refXi.forEach((xi, i) => {
    const m = p.refMSE[i];
    g.append("path").attr("d", `M${L},${y(m)}H${x(xi)}V${B}`)
      .attr("fill", "none").attr("stroke", "#000").attr("stroke-width", 2.2).attr("stroke-dasharray", "7,4");
    g.append("text").attr("x", x(1.88)).attr("y", y(m) - 3)
      .attr("font-size", p.refSize).attr("fill", "#111").text("\u03be = " + xi);
  });

  g.append("rect").attr("x", L).attr("y", T).attr("width", R - L).attr("height", B - T)
    .attr("fill", "none").attr("stroke", "#7f7f7f").attr("stroke-width", 1.1);

  g.selectAll("line.ty").data(p.yTicks).join("line").attr("class", "ty")
    .attr("x1", L - 6).attr("x2", L).attr("y1", d => y(d)).attr("y2", d => y(d))
    .attr("stroke", "#333").attr("stroke-width", 1);
  g.selectAll("text.ty").data(p.yTicks).join("text").attr("class", "ty")
    .attr("x", L - 9.5).attr("y", d => y(d) + 4.5).attr("text-anchor", "end")
    .attr("font-size", 12.8).attr("fill", "#333").text((d, i) => p.yLabels[i]);
  g.selectAll("line.tx").data(xTicks).join("line").attr("class", "tx")
    .attr("y1", B).attr("y2", B + 6).attr("x1", d => x(d)).attr("x2", d => x(d))
    .attr("stroke", "#333").attr("stroke-width", 1);
  g.selectAll("text.tx").data(xTicks).join("text").attr("class", "tx")
    .attr("x", d => x(d)).attr("y", B + 19).attr("text-anchor", "middle")
    .attr("font-size", 12.8).attr("fill", "#333").text((d, i) => xTickLabels[i]);

  g.append("text").attr("x", cx).attr("y", 442).attr("text-anchor", "middle")
    .attr("font-size", 15.5).attr("fill", "#000").text("\u03be");
  g.append("text").attr("transform", `translate(${p.yTitleX},${(T + B) / 2}) rotate(-90)`)
    .attr("text-anchor", "middle").attr("font-size", 15.2).attr("fill", "#000").text("MSE\u2212Inflation");

  const lx = p.legendX;
  g.append("text").attr("x", lx).attr("y", 139).attr("font-size", 13).attr("font-weight", "bold")
    .attr("fill", "#000").text("Sample Size");
  const keys = g.selectAll("g.key").data(sizeBreaks).join("g").attr("class", "key")
    .attr("transform", (d, i) => `translate(${lx},${145 + i * 23.3})`);
  keys.append("rect").attr("width", 23.3).attr("height", 23.3).attr("fill", "#fff")
    .attr("stroke", "#cccccc").attr("stroke-width", 1);
  keys.append("circle").attr("cx", 11.65).attr("cy", 11.65).attr("r", d => rScale(d))
    .attr("fill", "none").attr("stroke", "#000").attr("stroke-width", 1);
  keys.append("text").attr("x", 27).attr("y", 16.2).attr("font-size", 12.8).attr("fill", "#111")
    .text((d, i) => sizeLabels[i]);

  g.append("text").attr("x", lx).attr("y", 222).attr("font-size", 13).attr("font-weight", "bold")
    .attr("fill", "#000").text("True Coefficient");
  const cbTop = 226.7, cbBot = 342.7, cbW = 23.5;
  const cb = d3.scaleLinear().domain(p.coefLimits).range([cbBot, cbTop]);
  const rows = d3.range(cbTop, cbBot, 1);
  g.selectAll("rect.cb").data(rows).join("rect").attr("class", "cb")
    .attr("x", lx).attr("y", d => d).attr("width", cbW).attr("height", 1.2)
    .attr("fill", d => color(cb.invert(d + 0.5)));
  p.coefBreaks.forEach((b, i) => {
    const yy = cb(b);
    g.append("line").attr("x1", lx).attr("x2", lx + 4.7).attr("y1", yy).attr("y2", yy)
      .attr("stroke", "#fff").attr("stroke-width", 1);
    g.append("line").attr("x1", lx + cbW - 4.7).attr("x2", lx + cbW).attr("y1", yy).attr("y2", yy)
      .attr("stroke", "#fff").attr("stroke-width", 1);
    g.append("text").attr("x", lx + 28.5).attr("y", yy + 4.5).attr("font-size", 12.8)
      .attr("fill", "#111").text(p.coefLabels[i]);
  });
});
</script>
</body></html>
